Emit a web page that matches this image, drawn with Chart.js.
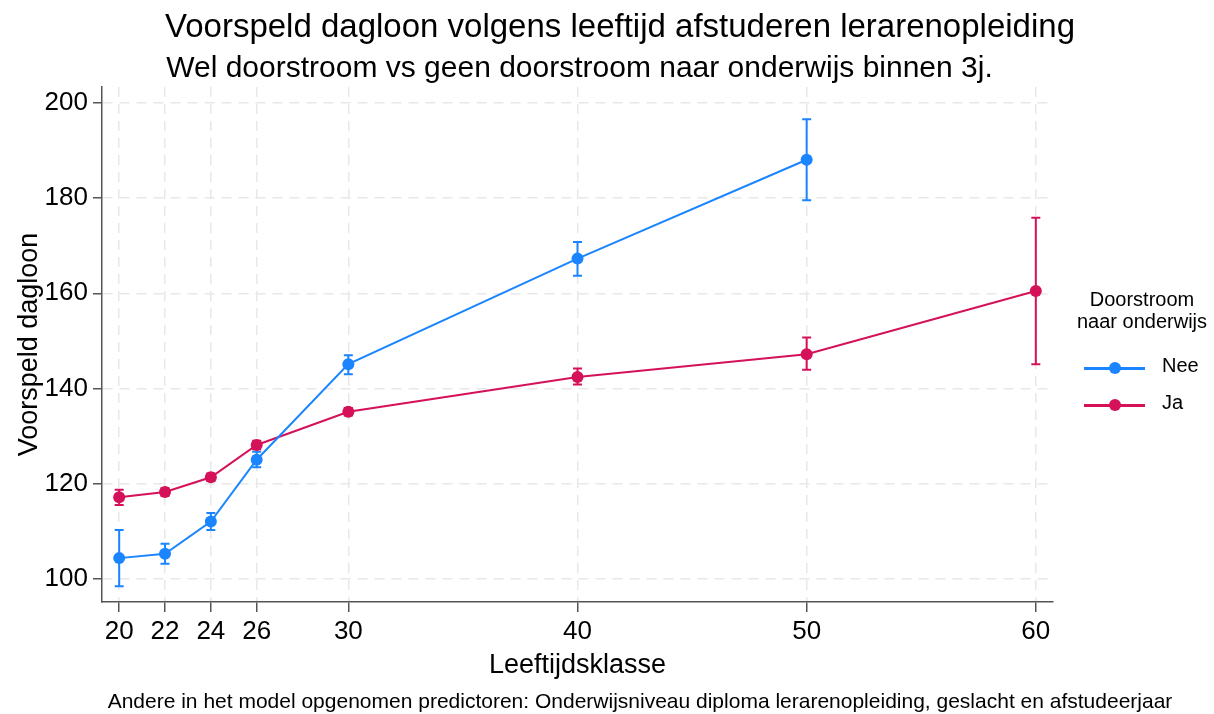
<!DOCTYPE html>
<html>
<head>
<meta charset="utf-8">
<script src="https://cdn.jsdelivr.net/npm/chart.js@4.4.1/dist/chart.umd.min.js"></script>
<style>
  body { margin: 0; background: #fff; font-family: "Liberation Sans", Arial, sans-serif; }
  #wrap { position: relative; width: 1214px; height: 714px; }
  #chart { position: absolute; left: 0; top: 0; }
  .txt { position: absolute; white-space: nowrap; color: #000; }
  #title { left: 0; width: 1240px; top: 7px; text-align: center; font-size: 33px; }
  #subtitle { left: 102px; width: 955px; top: 50px; text-align: center; font-size: 30px; }
  #note { left: 0; width: 1280px; top: 689px; text-align: center; font-size: 21px; }
  #legend { position: absolute; left: 1062px; top: 288px; width: 160px; font-size: 20px; }
  #legend .head { text-align: center; line-height: 22px; }
  .item { position: relative; height: 37px; }
  .item .ln { position: absolute; left: 22px; top: 13px; width: 61px; height: 2.5px; }
  .item .dot { position: absolute; left: 47px; top: 8px; width: 12px; height: 12px; border-radius: 50%; }
  .item .lab { position: absolute; left: 100px; top: 0; }
</style>
</head>
<body>
<div id="wrap">
  <canvas id="chart" width="1214" height="714"></canvas>
  <div class="txt" id="title">Voorspeld dagloon volgens leeftijd afstuderen lerarenopleiding</div>
  <div class="txt" id="subtitle">Wel doorstroom vs geen doorstroom naar onderwijs binnen 3j.</div>
  <div class="txt" id="note">Andere in het model opgenomen predictoren: Onderwijsniveau diploma lerarenopleiding, geslacht en afstudeerjaar</div>
  <div id="legend">
    <div class="head">Doorstroom<br>naar onderwijs</div>
    <div style="height:22px"></div>
    <div class="item"><div class="ln" style="background:#1a85ff"></div><div class="dot" style="background:#1a85ff"></div><div class="lab">Nee</div></div>
    <div class="item"><div class="ln" style="background:#d41159"></div><div class="dot" style="background:#d41159"></div><div class="lab">Ja</div></div>
  </div>
</div>
<script>
// leeftijdsklassen (x) en tick labels
const ages = [20, 22, 24, 26, 30, 40, 50, 60];
const xTicks = [20, 22, 24, 26, 30, 40, 50, 60];
const yTicks = [100, 120, 140, 160, 180, 200];

// Nee = geen doorstroom (geen waarde bij 60)
const neeMean = [104.3, 105.2, 112.0, 125.0, 145.1, 167.3, 188.1];
const neeLow  = [98.4, 103.1, 110.2, 123.4, 143.0, 163.7, 179.6];
const neeHigh = [110.2, 107.3, 113.8, 126.7, 147.0, 170.8, 196.6];

// Ja = wel doorstroom
const jaMean = [117.1, 118.2, 121.3, 128.1, 135.1, 142.4, 147.2, 160.5];
const jaLow  = [115.5, 117.4, 120.5, 127.2, 134.3, 140.8, 143.9, 145.1];
const jaHigh = [118.7, 119.0, 122.1, 129.0, 135.9, 144.2, 150.7, 175.9];

const BLUE = '#1a85ff';
const RED = '#d41159';

function toPoints(means, lows, highs) {
    return means.map((m, i) => ({ x: ages[i], y: m, lo: lows[i], hi: highs[i] }));
}

// error bars with caps, drawn under the lines/points
const errorBars = {
    id: 'errorBars',
    beforeDatasetsDraw(chart) {
        const ctx = chart.ctx;
        const xs = chart.scales.x, ys = chart.scales.y;
        chart.data.datasets.forEach(ds => {
            ctx.save();
            ctx.strokeStyle = ds.borderColor;
            ctx.lineWidth = 2;
            ds.data.forEach(p => {
                const px = xs.getPixelForValue(p.x);
                const top = ys.getPixelForValue(p.hi);
                const bot = ys.getPixelForValue(p.lo);
                ctx.beginPath();
                ctx.moveTo(px, top); ctx.lineTo(px, bot);
                ctx.moveTo(px - 4.5, top); ctx.lineTo(px + 4.5, top);
                ctx.moveTo(px - 4.5, bot); ctx.lineTo(px + 4.5, bot);
                ctx.stroke();
            });
            ctx.restore();
        });
    }
};

const font = { family: '"Liberation Sans", Arial, sans-serif', size: 26 };

new Chart(document.getElementById('chart'), {
    type: 'line',
    data: {
        datasets: [
            {
                label: 'Nee',
                data: toPoints(neeMean, neeLow, neeHigh),
                borderColor: BLUE,
                backgroundColor: BLUE,
                borderWidth: 2,
                pointRadius: 6,
                pointBorderWidth: 0,
                tension: 0
            },
            {
                label: 'Ja',
                data: toPoints(jaMean, jaLow, jaHigh),
                borderColor: RED,
                backgroundColor: RED,
                borderWidth: 2,
                pointRadius: 6,
                pointBorderWidth: 0,
                tension: 0
            }
        ]
    },
    options: {
        responsive: false,
        animation: false,
        layout: { padding: { top: 87, right: 161, bottom: 0, left: 0 } },
        plugins: { legend: { display: false }, tooltip: { enabled: false } },
        scales: {
            x: {
                type: 'linear',
                min: 19.25,
                max: 60.75,
                afterBuildTicks: s => { s.ticks = xTicks.map(v => ({ value: v })); },
                afterFit: s => { s.height = 112; },
                ticks: { font: font, color: '#000', padding: 4, maxRotation: 0, autoSkip: false },
                grid: { color: '#e8e8e8', lineWidth: 1.5, tickColor: '#555', tickLength: 10, tickWidth: 1.5 },
                border: { color: '#555', width: 1.5, dash: [10, 7] },
                title: { display: true, text: 'Leeftijdsklasse', font: { family: font.family, size: 27 }, color: '#000', padding: { top: 0, bottom: 32 } }
            },
            y: {
                min: 95.07,
                max: 203.4,
                afterBuildTicks: s => { s.ticks = yTicks.map(v => ({ value: v })); },
                afterFit: s => { s.width = 102; },
                ticks: { font: font, color: '#000', padding: 5 },
                grid: { color: '#e8e8e8', lineWidth: 1.5, tickColor: '#555', tickLength: 9, tickWidth: 1.5 },
                border: { color: '#555', width: 1.5, dash: [10, 7] },
                title: { display: true, text: 'Voorspeld dagloon', font: { family: font.family, size: 27 }, color: '#000', padding: { top: 13, bottom: 0 } }
            }
        }
    },
    plugins: [errorBars]
});
</script>
</body>
</html>
